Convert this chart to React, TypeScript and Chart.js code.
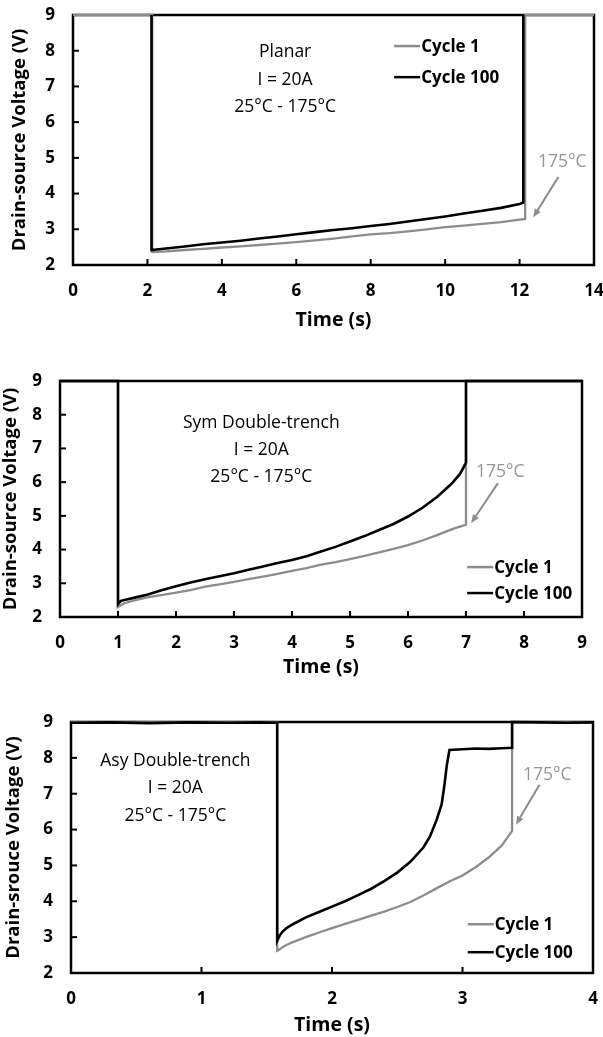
import React, { useEffect, useRef } from 'react';
import { Chart, registerables } from 'chart.js';

Chart.register(...registerables);

// ---------------- DATA ----------------
const seriesLabels = ['Cycle 1', 'Cycle 100'];

// Planar
const planarC1X = [0, 2.13, 2.13, 2.5, 3, 3.5, 4, 4.5, 5, 5.5, 6, 6.5, 7, 7.5, 8, 8.5, 9, 9.5, 10, 10.5, 11, 11.5, 12, 12.15, 12.15, 14];
const planarC1Y = [9, 9, 2.36, 2.38, 2.42, 2.45, 2.49, 2.52, 2.56, 2.6, 2.64, 2.69, 2.74, 2.8, 2.86, 2.89, 2.94, 3.0, 3.06, 3.1, 3.15, 3.2, 3.27, 3.29, 9, 9];
const planarC100X = [2.11, 2.11, 2.5, 3, 3.5, 4, 4.5, 5, 5.5, 6, 6.5, 7, 7.5, 8, 8.5, 9, 9.5, 10, 10.5, 11, 11.5, 12, 12.1, 12.1];
const planarC100Y = [9, 2.42, 2.46, 2.52, 2.58, 2.63, 2.68, 2.74, 2.8, 2.86, 2.92, 2.98, 3.03, 3.09, 3.15, 3.22, 3.29, 3.36, 3.44, 3.52, 3.6, 3.71, 3.75, 9];
const planarXTicks = [0, 14, 2];

// Sym Double-trench
const symC1X = [0, 1, 1, 1.1, 1.25, 1.5, 1.75, 2, 2.25, 2.5, 2.75, 3, 3.25, 3.5, 3.75, 4, 4.25, 4.5, 4.75, 5, 5.25, 5.5, 5.75, 6, 6.25, 6.5, 6.75, 7, 7, 9];
const symC1Y = [9, 9, 2.3, 2.4, 2.48, 2.58, 2.65, 2.72, 2.8, 2.9, 2.97, 3.04, 3.12, 3.2, 3.28, 3.37, 3.45, 3.55, 3.63, 3.72, 3.81, 3.92, 4.02, 4.13, 4.27, 4.43, 4.6, 4.74, 9, 9];
const symC100X = [0, 1, 1, 1.05, 1.25, 1.5, 1.75, 2, 2.25, 2.5, 2.75, 3, 3.25, 3.5, 3.75, 4, 4.25, 4.5, 4.75, 5, 5.25, 5.5, 5.75, 6, 6.25, 6.5, 6.75, 6.9, 7, 7, 9];
const symC100Y = [9, 9, 2.38, 2.48, 2.56, 2.66, 2.79, 2.91, 3.02, 3.12, 3.21, 3.3, 3.4, 3.5, 3.6, 3.69, 3.8, 3.94, 4.08, 4.24, 4.4, 4.58, 4.76, 4.98, 5.24, 5.56, 5.95, 6.25, 6.58, 9, 9];
const symXTicks = [0, 9, 1];

// Asy Double-trench
const asyC1X = [0, 1.58, 1.58, 1.6, 1.62, 1.65, 1.7, 1.8, 1.9, 2.0, 2.1, 2.2, 2.3, 2.4, 2.5, 2.6, 2.7, 2.8, 2.9, 3.0, 3.1, 3.2, 3.3, 3.38, 3.38, 4];
const asyC1Y = [9, 9, 2.62, 2.66, 2.72, 2.78, 2.86, 3.0, 3.13, 3.25, 3.37, 3.48, 3.6, 3.71, 3.84, 3.98, 4.16, 4.36, 4.55, 4.72, 4.95, 5.22, 5.55, 5.96, 9, 9];
const asyC100X = [0, 0.3, 0.6, 0.9, 1.2, 1.45, 1.58, 1.58, 1.6, 1.62, 1.65, 1.7, 1.8, 1.9, 2.0, 2.1, 2.2, 2.3, 2.4, 2.5, 2.6, 2.7, 2.75, 2.8, 2.84, 2.86, 2.88, 2.9, 3.0, 3.1, 3.2, 3.3, 3.38, 3.38, 3.6, 3.8, 4];
const asyC100Y = [8.98, 8.99, 8.97, 8.99, 8.98, 8.99, 8.98, 2.9, 3.05, 3.15, 3.25, 3.36, 3.55, 3.7, 3.85, 4.0, 4.17, 4.35, 4.56, 4.8, 5.1, 5.5, 5.8, 6.25, 6.7, 7.2, 7.8, 8.22, 8.24, 8.26, 8.25, 8.27, 8.28, 9, 8.99, 8.98, 8.99];
const asyXTicks = [0, 4, 1];

const yTicks = [2, 9, 1];

const planarNotes = ['Planar', 'I = 20A', '25°C - 175°C'];
const symNotes = ['Sym Double-trench', 'I = 20A', '25°C - 175°C'];
const asyNotes = ['Asy Double-trench', 'I = 20A', '25°C - 175°C'];
const tempLabel = '175°C';
const xTitle = 'Time (s)';
const yTitleA = 'Drain-source Voltage (V)';
const yTitleB = 'Drain-srouce Voltage (V)';

// ---------------- STYLE ----------------
const FONT = '"Open Sans", sans-serif';
const GRAY = '#8c8c8c';
const GRAY_TEXT = '#959595';
const BLACK = '#000000';

const pts = (xs: number[], ys: number[]) => xs.map((x, i) => ({ x, y: ys[i] }));

const framePlugin = {
  id: 'framePlugin',
  beforeDatasetsDraw(chart: any) {
    const { ctx, chartArea: a, scales } = chart;
    ctx.save();
    ctx.strokeStyle = BLACK;
    ctx.lineWidth = 2.5;
    ctx.strokeRect(a.left, a.top, a.right - a.left, a.bottom - a.top);
    ctx.lineWidth = 2;
    scales.x.ticks.forEach((t: any) => {
      const px = scales.x.getPixelForValue(t.value);
      ctx.beginPath();
      ctx.moveTo(px, a.bottom);
      ctx.lineTo(px, a.bottom - 6);
      ctx.stroke();
    });
    scales.y.ticks.forEach((t: any) => {
      const py = scales.y.getPixelForValue(t.value);
      ctx.beginPath();
      ctx.moveTo(a.left, py);
      ctx.lineTo(a.left + 6, py);
      ctx.stroke();
    });
    ctx.restore();
  },
  afterDatasetsDraw(chart: any, _args: any, opts: any) {
    const { ctx, scales } = chart;
    const sx = (v: number) => scales.x.getPixelForValue(v);
    const sy = (v: number) => scales.y.getPixelForValue(v);
    ctx.save();
    // notes
    ctx.fillStyle = BLACK;
    ctx.font = `17.5px ${FONT}`;
    ctx.textAlign = 'center';
    ctx.textBaseline = 'middle';
    opts.notes.forEach((line: string, i: number) => {
      ctx.fillText(line, sx(opts.noteX), sy(opts.noteY[i]));
    });
    // temperature label + arrow
    ctx.fillStyle = GRAY_TEXT;
    ctx.fillText(opts.temp, sx(opts.tempAt[0]), sy(opts.tempAt[1]));
    const x0 = sx(opts.arrowFrom[0]);
    const y0 = sy(opts.arrowFrom[1]);
    const x1 = sx(opts.arrowTo[0]);
    const y1 = sy(opts.arrowTo[1]);
    const ang = Math.atan2(y1 - y0, x1 - x0);
    const head = 9;
    ctx.strokeStyle = GRAY;
    ctx.fillStyle = GRAY;
    ctx.lineWidth = 2;
    ctx.beginPath();
    ctx.moveTo(x0, y0);
    ctx.lineTo(x1 - Math.cos(ang) * head * 0.8, y1 - Math.sin(ang) * head * 0.8);
    ctx.stroke();
    ctx.beginPath();
    ctx.moveTo(x1, y1);
    ctx.lineTo(x1 - Math.cos(ang - 0.4) * head, y1 - Math.sin(ang - 0.4) * head);
    ctx.lineTo(x1 - Math.cos(ang + 0.4) * head, y1 - Math.sin(ang + 0.4) * head);
    ctx.closePath();
    ctx.fill();
    // legend
    ctx.font = `bold 17px ${FONT}`;
    ctx.textAlign = 'left';
    chart.data.datasets.forEach((ds: any, i: number) => {
      const lx = sx(opts.legendX);
      const ly = sy(opts.legendY[i]);
      ctx.strokeStyle = ds.borderColor;
      ctx.lineWidth = 2.5;
      ctx.beginPath();
      ctx.moveTo(lx, ly);
      ctx.lineTo(lx + 26, ly);
      ctx.stroke();
      ctx.fillStyle = BLACK;
      ctx.fillText(ds.label, lx + 27, ly + 1);
    });
    ctx.restore();
  },
};

type PanelProps = {
  top: number;
  height: number;
  plotTop: number;
  plotLeft: number;
  padRight: number;
  xAxisHeight: number;
  xTitlePad: number;
  yTitlePad: number;
  xTicks: number[];
  yTitle: string;
  c1: { x: number; y: number }[];
  c100: { x: number; y: number }[];
  notes: string[];
  noteX: number;
  noteY: number[];
  tempAt: number[];
  arrowFrom: number[];
  arrowTo: number[];
  legendX: number;
  legendY: number[];
};

function Panel(p: PanelProps) {
  const ref = useRef<HTMLCanvasElement>(null);
  useEffect(() => {
    if (!ref.current) return;
    const chart = new Chart(ref.current, {
      type: 'scatter',
      data: {
        datasets: [
          {
            label: seriesLabels[0],
            data: p.c1,
            showLine: true,
            borderColor: GRAY,
            backgroundColor: GRAY,
            borderWidth: 2.3,
            pointRadius: 0,
            order: 1,
            clip: false as any,
          },
          {
            label: seriesLabels[1],
            data: p.c100,
            showLine: true,
            borderColor: BLACK,
            backgroundColor: BLACK,
            borderWidth: 2.6,
            pointRadius: 0,
            order: 0,
            clip: false as any,
          },
        ],
      },
      options: {
        responsive: false,
        animation: false,
        devicePixelRatio: 1,
        layout: { padding: { top: p.plotTop, right: p.padRight, left: 0, bottom: 0 } },
        plugins: {
          legend: { display: false },
          tooltip: { enabled: false },
          framePlugin: {
            notes: p.notes,
            noteX: p.noteX,
            noteY: p.noteY,
            temp: tempLabel,
            tempAt: p.tempAt,
            arrowFrom: p.arrowFrom,
            arrowTo: p.arrowTo,
            legendX: p.legendX,
            legendY: p.legendY,
          },
        } as any,
        scales: {
          x: {
            type: 'linear',
            min: p.xTicks[0],
            max: p.xTicks[1],
            ticks: {
              stepSize: p.xTicks[2],
              padding: 16,
              color: BLACK,
              font: { family: FONT, size: 17, weight: 'bold' },
              maxRotation: 0,
            },
            grid: { display: false, drawTicks: false },
            border: { display: false },
            title: {
              display: true,
              text: xTitle,
              color: BLACK,
              font: { family: FONT, size: 19.5, weight: 'bold' },
              padding: { top: 0, bottom: p.xTitlePad },
            },
            afterFit: (s: any) => {
              s.height = p.xAxisHeight;
              s.paddingLeft = 0;
              s.paddingRight = 0;
            },
          },
          y: {
            type: 'linear',
            min: yTicks[0],
            max: yTicks[1],
            ticks: {
              stepSize: yTicks[2],
              padding: 18,
              color: BLACK,
              font: { family: FONT, size: 17, weight: 'bold' },
            },
            grid: { display: false, drawTicks: false },
            border: { display: false },
            title: {
              display: true,
              text: p.yTitle,
              color: BLACK,
              font: { family: FONT, size: 18.5, weight: 'bold' },
              padding: { top: p.yTitlePad, bottom: 0 },
            },
            afterFit: (s: any) => {
              s.width = p.plotLeft;
              s.paddingTop = 0;
              s.paddingBottom = 0;
            },
          },
        },
      } as any,
      plugins: [framePlugin],
    });
    return () => chart.destroy();
  }, []);
  return (
    <div style={{ position: 'absolute', left: 0, top: p.top, width: 603, height: p.height }}>
      <canvas ref={ref} width={603} height={p.height} style={{ display: 'block', width: 603, height: p.height }} />
    </div>
  );
}

export default function App() {
  return (
    <div style={{ position: 'absolute', left: 0, top: 0, width: 603, height: 1037, background: '#fff', overflow: 'hidden' }}>
      <Panel
        top={0}
        height={340}
        plotTop={15}
        plotLeft={73}
        padRight={9}
        xAxisHeight={75}
        xTitlePad={8}
        yTitlePad={9}
        xTicks={planarXTicks}
        yTitle={yTitleA}
        c1={pts(planarC1X, planarC1Y)}
        c100={pts(planarC100X, planarC100Y)}
        notes={planarNotes}
        noteX={5.7}
        noteY={[7.96, 7.18, 6.42]}
        tempAt={[13.15, 4.88]}
        arrowFrom={[13.04, 4.46]}
        arrowTo={[12.37, 3.34]}
        legendX={8.63}
        legendY={[8.13, 7.26]}
      />
      <Panel
        top={340}
        height={350}
        plotTop={41}
        plotLeft={60}
        padRight={21}
        xAxisHeight={73}
        xTitlePad={11}
        yTitlePad={0}
        xTicks={symXTicks}
        yTitle={yTitleA}
        c1={pts(symC1X, symC1Y)}
        c100={pts(symC100X, symC100Y)}
        notes={symNotes}
        noteX={3.47}
        noteY={[7.75, 6.95, 6.15]}
        tempAt={[7.59, 6.3]}
        arrowFrom={[7.55, 5.97]}
        arrowTo={[7.09, 4.79]}
        legendX={7.02}
        legendY={[3.48, 2.71]}
      />
      <Panel
        top={690}
        height={347}
        plotTop={32}
        plotLeft={71}
        padRight={10}
        xAxisHeight={64}
        xTitlePad={0}
        yTitlePad={3}
        xTicks={asyXTicks}
        yTitle={yTitleB}
        c1={pts(asyC1X, asyC1Y)}
        c100={pts(asyC100X, asyC100Y)}
        notes={asyNotes}
        noteX={0.8}
        noteY={[7.92, 7.17, 6.39]}
        tempAt={[3.65, 7.53]}
        arrowFrom={[3.59, 7.25]}
        arrowTo={[3.41, 6.14]}
        legendX={3.04}
        legendY={[3.36, 2.58]}
      />
    </div>
  );
}
